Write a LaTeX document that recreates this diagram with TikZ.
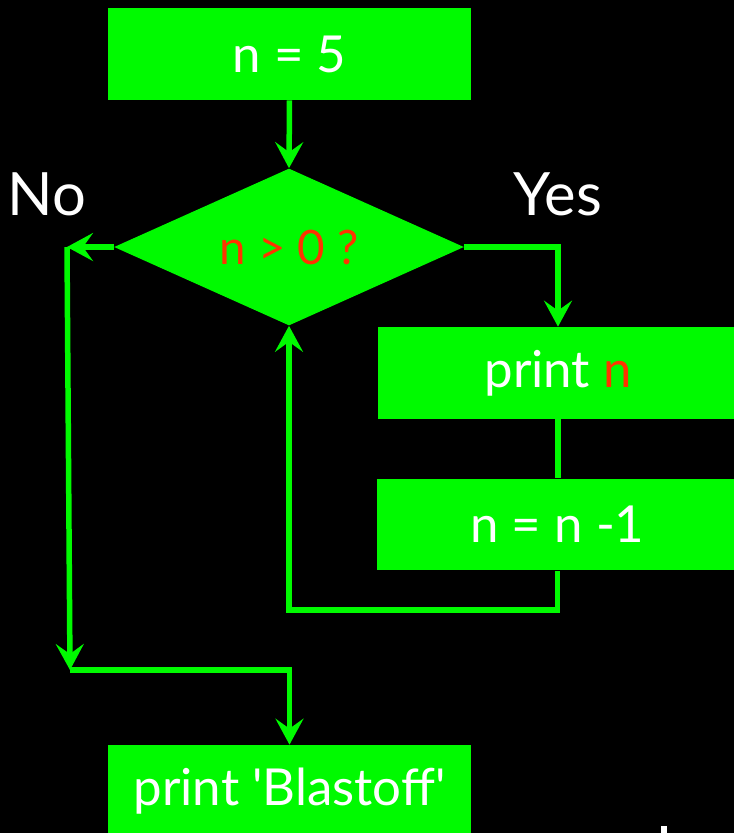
\documentclass[tikz,border=0pt]{standalone}
\usepackage{fontspec}
\setmainfont{Lato}
\usepackage{tikz}
\usepackage{color}
\usetikzlibrary{arrows,arrows.meta,shapes.geometric}
\definecolor{vert}{RGB}{0,250,0}
\definecolor{rouge}{RGB}{255,51,0}

\begin{document}
\begin{tikzpicture}[x=0.02cm,y=-0.02cm]
      \tikzstyle{every node} = [inner sep = 0pt, text=white, font=\fontsize{29}{34}\selectfont];
      \tikzstyle{boite} = [rectangle, fill=vert, minimum width=7.26cm, minimum height=1.84cm];
      \tikzstyle{losange} = [diamond, aspect=2.2, fill=vert, minimum width=7cm, minimum height=3.14cm];
      \tikzstyle{trait} = [vert, line width=0.11cm];
      \tikzstyle{fleche} = [trait, -{Stealth[length=0.52cm,width=0.56cm,inset=0.2cm]}];
      \fill[black] (0,0) rectangle (734,833);
      \useasboundingbox (0,0) rectangle (734,833);
      \begin{scope}
        % les blocs
        \node(debut) [boite] at (289.5,54) {n = 5};
        \node(test) [losange] at (289,247) {\fontsize{27}{32}\selectfont\textcolor{rouge}{n > 0 ?}};
        \node(affiche) [boite, minimum width=7.2cm] at (558,373) {print \textcolor{rouge}{n}};
        \node(decr) [boite, minimum width=7.22cm] at (557.5,524.5) {n = n -1};
        \node(fin) [boite] at (289.5,791) {print \textquotesingle Blastoff\textquotesingle};
        \node(non) [font=\fontsize{34}{40}\selectfont] at (47,194) {No};
        \node(oui) [font=\fontsize{34}{40}\selectfont] at (558,194) {Yes};
        \coordinate (gauche) at (67,247);
        \coordinate (bas) at (70,670);
        \coordinate (retour) at (557.5,610);
        % les fleches
        \draw[fleche] (debut.south) -- (test.north);
        \draw[fleche] (test.west) -- (gauche);
        \draw[fleche] (gauche) -- (bas);
        \draw[fleche] (bas) -| (fin.north);
        \draw[fleche] (test.east) -| (affiche.north);
        \draw[trait] (affiche.south) -- (affiche.south |- decr.north);
        \draw[fleche] (decr.south) -- (retour) -| (test.south);
        \fill[white] (661,826) rectangle (667,833);
      \end{scope}
\end{tikzpicture}
\end{document}
